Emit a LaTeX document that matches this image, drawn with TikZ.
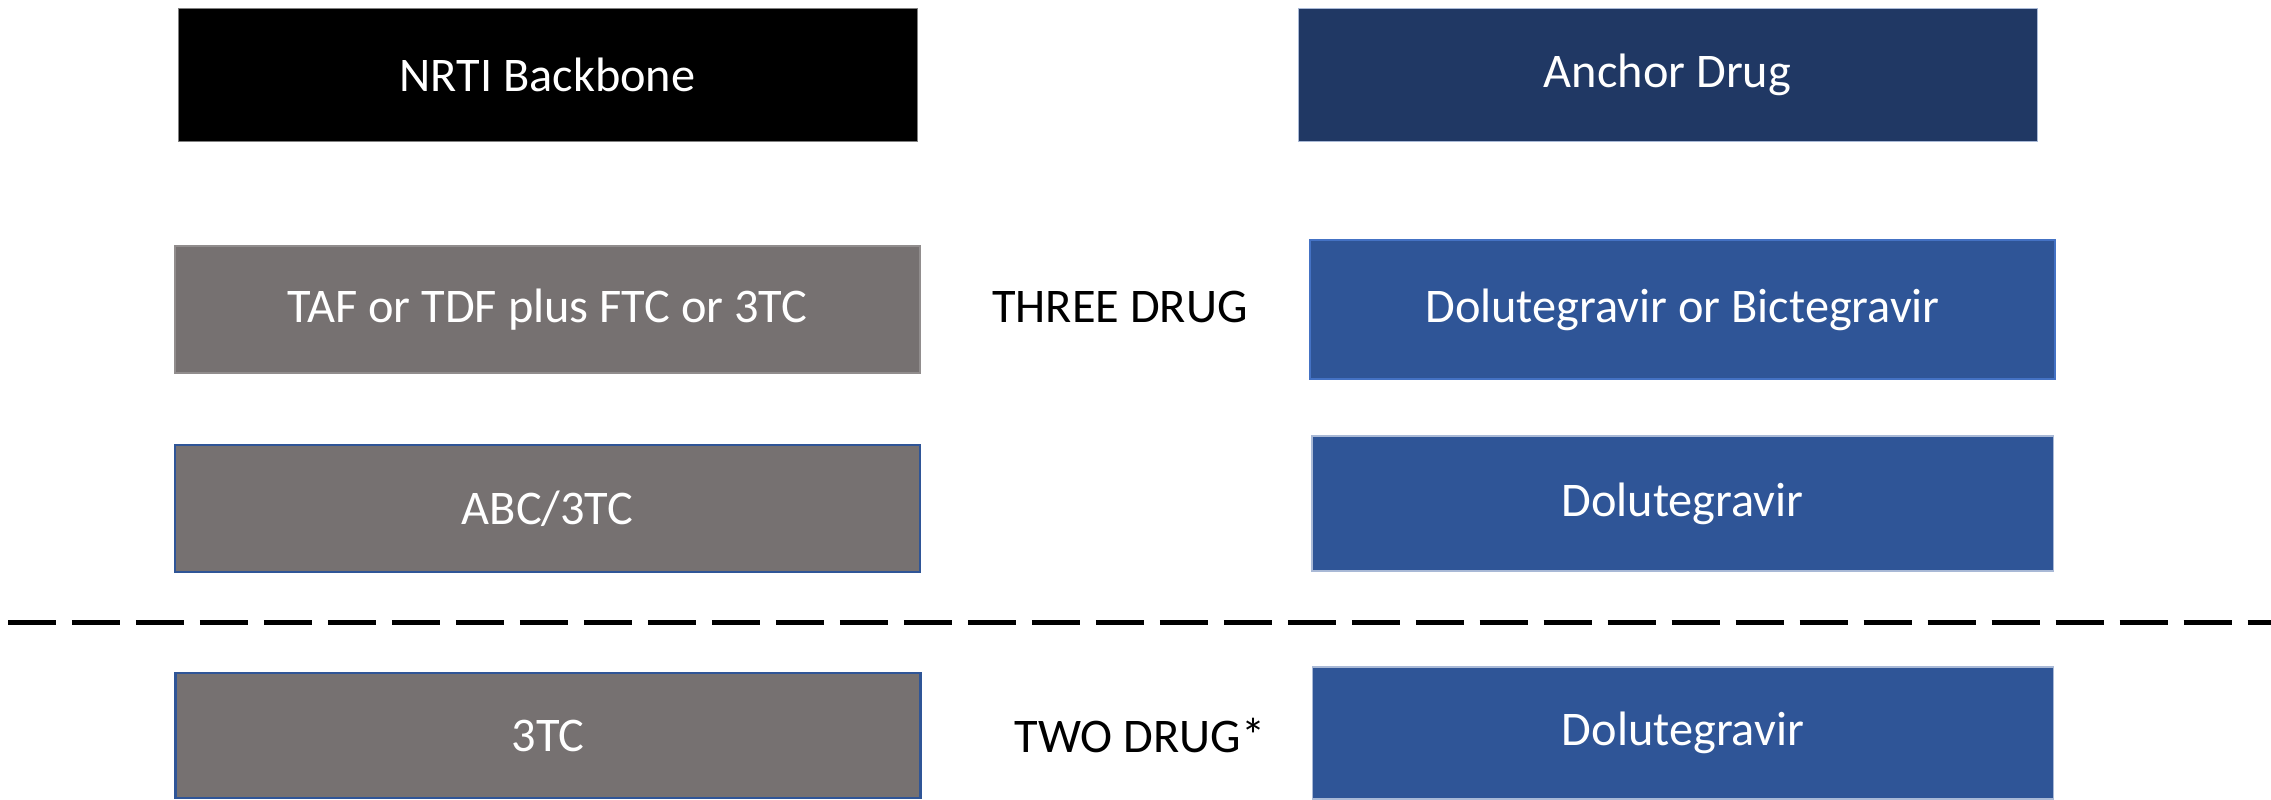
\documentclass[tikz,border=0pt]{standalone}
\usepackage{fontspec}
\setmainfont{Carlito}
\usepackage{tikz}
\usetikzlibrary{positioning}
\definecolor{regblack}{HTML}{000000}
\definecolor{regnavy}{HTML}{203864}
\definecolor{reggray}{HTML}{767171}
\definecolor{regblue}{HTML}{2F5597}
\definecolor{regedge}{HTML}{4472C4}
\definecolor{regpale}{HTML}{A9B9D6}

\begin{document}
\begin{tikzpicture}[x=0.02cm, y=-0.02cm,
    every node/.style={font=\fontsize{27.5}{33}\selectfont, align=center},
    regbox/.style={text=white, minimum width=#1, inner sep=0pt},
    headbox/.style={regbox=739*0.02cm, minimum height=133*0.02cm},
    nrtibox/.style={regbox=745*0.02cm, fill=reggray, draw=reggray!80, line width=0.6pt},
    drugbox/.style={regbox=741*0.02cm, fill=regblue, draw=regpale, line width=0.6pt},
    tag/.style={text=black}]
  \useasboundingbox (0,0) rectangle (2271,799);

  % column heads
  \node[headbox, fill=regblack, draw=gray] (nrti) at (547.5,74.5) {NRTI Backbone};
  \node[headbox, fill=regnavy, draw=regpale] (anchor) at (1667.5,74.5) {Anchor Drug};

  % three drug regimens
  \node[nrtibox, minimum height=127*0.02cm] (taf) at (547.5,309.5) {TAF or TDF plus FTC or 3TC};
  \node[drugbox, minimum width=745*0.02cm, minimum height=139*0.02cm, draw=regedge, line width=1.6pt] (dolbic) at (1682.5,309.5) {Dolutegravir or Bictegravir};
  \node[tag] (three) at (1120,307) {THREE DRUG};

  \node[nrtibox, minimum height=127*0.02cm, draw=regblue, line width=1.2pt] (abc) at (547.5,508.5) {ABC/3TC};
  \node[drugbox, minimum height=135*0.02cm] (dolone) at (1682.5,503.5) {Dolutegravir};

  % separator
  \coordinate (sepL) at (8,622);
  \coordinate (sepR) at (2271,622);
  \draw[line width=0.1cm, dash pattern=on 0.96cm off 0.32cm] (sepL) -- (sepR);

  % two drug regimen
  \node[nrtibox, minimum height=125*0.02cm, draw=regblue, line width=1.2pt] (lam) at (548,735.5) {3TC};
  \node[drugbox, minimum height=132*0.02cm] (doltwo) at (1683,733) {Dolutegravir};
  \node[tag] (two) at (1140,736) {TWO DRUG*};
\end{tikzpicture}
\end{document}
